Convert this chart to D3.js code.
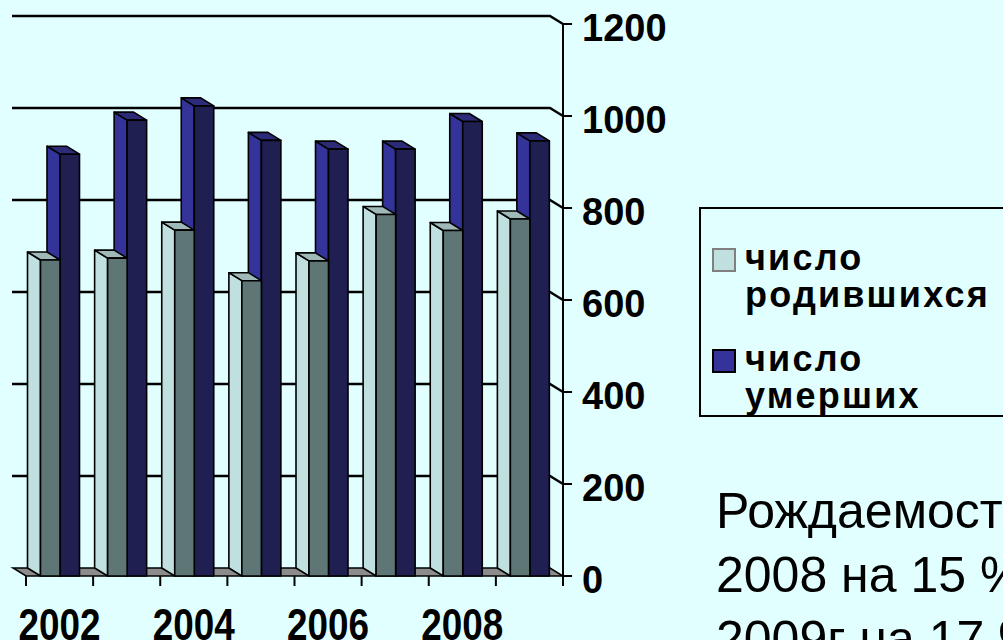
<!DOCTYPE html>
<html lang="ru">
<head>
<meta charset="UTF-8">
<title>Рождаемость и смертность</title>
<script src="https://d3js.org/d3.v7.min.js"></script>
<style>
  html, body { margin: 0; padding: 0; background: #e1ffff; overflow: hidden; }
  svg { display: block; font-family: "Liberation Sans", Arial, sans-serif; }
</style>
</head>
<body>
<div id="chart"></div>
<script>
// data
const years = ["2002", "2003", "2004", "2005", "2006", "2007", "2008", "2009"];
const births = [687, 691, 752, 642, 685, 786, 751, 776];
const deaths = [917, 991, 1022, 947, 928, 928, 988, 946];
const yTicks = [0, 200, 400, 600, 800, 1000, 1200];
const xLabels = ["2002", "2004", "2006", "2008"];
const legendLines = [["число", "родившихся"], ["число", "умерших"]];
const noteLines = ["Рождаемость", "2008 на 15 %", "2009г на 17 %"];

const W = 1003, H = 640;
const DX = 13, DY = 8; // depth offset of the 3d look (back = front - offset)

const svg = d3.select("#chart").append("svg")
    .attr("width", W).attr("height", H);

const x = d3.scaleBand().domain(years).range([26, 563]);
const y = d3.scaleLinear().domain([0, 1200]).range([576, 24]);

const poly = pts => "M" + pts.map(p => p.join(",")).join("L") + "Z";

// back wall gridlines
const grid = svg.append("g");
yTicks.filter(d => d > 0).forEach(v => {
    grid.append("path")
        .attr("d", `M12,${y(v) - DY}L${563 - DX},${y(v) - DY}L563,${y(v)}`)
        .attr("fill", "none").attr("stroke", "#000").attr("stroke-width", 2.5);
});

// floor
svg.append("path")
    .attr("d", poly([[26 - DX, y(0) - DY], [563 - DX, y(0) - DY], [563, y(0)], [26, y(0)]]))
    .attr("fill", "#8c8c8c").attr("stroke", "#000").attr("stroke-width", 1.5);

// bars
const bw = 19.5, off = 14.5;
const series = [
    { key: "deaths", vals: deaths, idx: 1, front: "#1f1f52", side: "#333399", top: "#2b2b78" },
    { key: "births", vals: births, idx: 0, front: "#5f7676", side: "#c0e0e0", top: "#9fb8b8" }
];

function drawBar(g, x0, v, s) {
    const xl = x0, xr = x0 + bw, yt = y(v), yb = y(0);
    g.append("path") // left side face
        .attr("d", poly([[xl, yb], [xl - DX, yb - DY], [xl - DX, yt - DY], [xl, yt]]))
        .attr("fill", s.side);
    g.append("path") // top face
        .attr("d", poly([[xl, yt], [xl - DX, yt - DY], [xr - DX, yt - DY], [xr, yt]]))
        .attr("fill", s.top);
    g.append("rect") // front face
        .attr("x", xl).attr("y", yt).attr("width", bw).attr("height", yb - yt)
        .attr("fill", s.front);
}

const bars = svg.append("g").attr("stroke", "#000").attr("stroke-width", 1.6)
    .attr("stroke-linejoin", "round");
years.forEach((yr, i) => {
    series.forEach(s => {
        drawBar(bars.append("g"), x(yr) + off + s.idx * bw, s.vals[i], s);
    });
});

// value axis on the right
const axis = svg.append("g").attr("stroke", "#000").attr("stroke-width", 2);
axis.append("line").attr("x1", 563).attr("x2", 563).attr("y1", y(1200)).attr("y2", y(0));
yTicks.forEach(v => {
    axis.append("line").attr("x1", 563).attr("x2", 572).attr("y1", y(v)).attr("y2", y(v));
});
svg.append("g").selectAll("text").data(yTicks).join("text")
    .attr("x", 582).attr("y", d => y(d) + 4)
    .attr("dominant-baseline", "central")
    .attr("font-size", 38).attr("font-weight", "bold")
    .text(d => d);

// category axis ticks and labels (narrow bold, running to the bottom edge)
const catTicks = years.map(d => x(d)).concat([x.range()[1]]);
svg.append("g").selectAll("line").data(catTicks).join("line")
    .attr("x1", d => d).attr("x2", d => d)
    .attr("y1", y(0)).attr("y2", y(0) + 10)
    .attr("stroke", "#000").attr("stroke-width", 2);
svg.append("g").selectAll("text").data(xLabels).join("text")
    .attr("transform", d => `translate(${x(d) + x.bandwidth() / 2},640) scale(0.82,1)`)
    .attr("text-anchor", "middle")
    .attr("font-size", 45).attr("font-weight", "bold")
    .text(d => d);

// legend
const leg = svg.append("g");
leg.append("rect").attr("x", 700).attr("y", 208).attr("width", 330).attr("height", 208)
    .attr("fill", "none").attr("stroke", "#000").attr("stroke-width", 2);
const legColors = [["#c0e0e0", "#808080"], ["#333399", "#000"]];
legendLines.forEach((lines, i) => {
    const top = 249 + i * 101;
    leg.append("rect").attr("x", 713).attr("y", top).attr("width", 22).attr("height", 22)
        .attr("fill", legColors[i][0]).attr("stroke", legColors[i][1]).attr("stroke-width", 2);
    lines.forEach((t, j) => {
        leg.append("text").attr("x", 745).attr("y", top + 21 + j * 37)
            .attr("font-size", 36).attr("font-weight", "bold").attr("letter-spacing", 2.2)
            .text(t);
    });
});

// note text at bottom right (runs past the edge)
svg.append("g").selectAll("text").data(noteLines).join("text")
    .attr("x", 716).attr("y", (d, i) => 528 + i * 64)
    .attr("font-size", 50)
    .text(d => d);
</script>
</body>
</html>
